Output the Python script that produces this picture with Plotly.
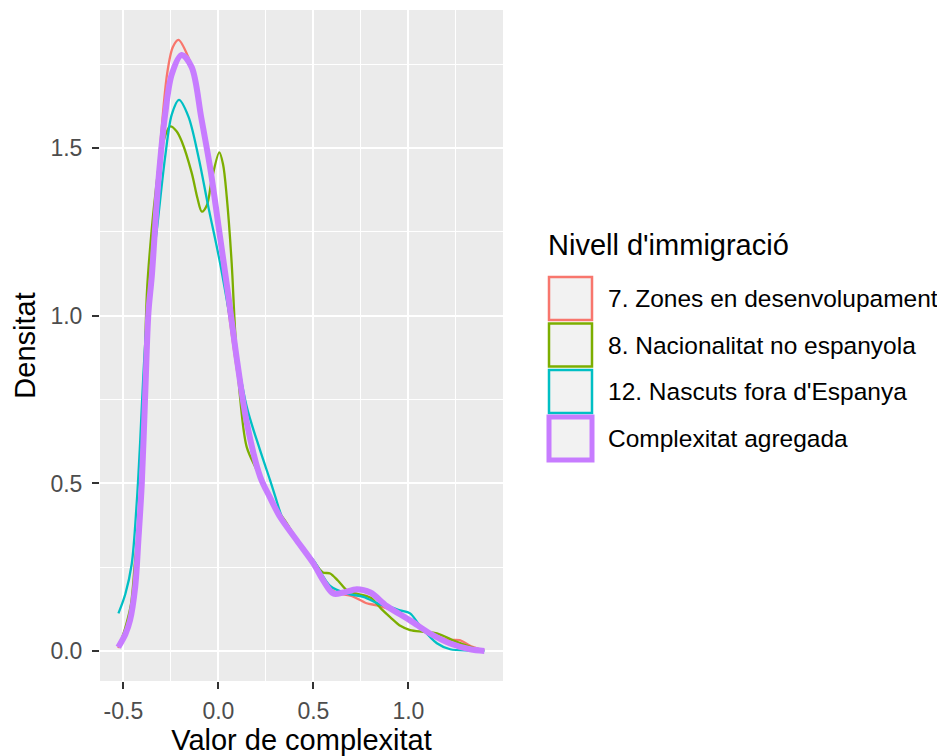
import plotly.graph_objects as go

# ---- data ----
series_names = ["7. Zones en desenvolupament", "8. Nacionalitat no espanyola",
                "12. Nascuts fora d'Espanya", "Complexitat agregada"]
series_colors = ["#F8766D", "#7CAE00", "#00BFC4", "#C77CFF"]

zones_x = [-0.527, -0.49, -0.465, -0.44, -0.42, -0.40, -0.385, -0.37, -0.35, -0.31, -0.27, -0.24,
           -0.21, -0.158, -0.12, -0.09, -0.04, 0.0, 0.05, 0.10, 0.15, 0.22, 0.27, 0.325, 0.413,
           0.5, 0.553, 0.605, 0.65, 0.70, 0.78, 0.834, 0.90, 1.0, 1.1, 1.2, 1.27, 1.33, 1.40]
zones_y = [0.01, 0.06, 0.11, 0.21, 0.36, 0.56, 0.78, 1.04, 1.20, 1.48, 1.72, 1.80,
           1.822, 1.77, 1.70, 1.60, 1.42, 1.25, 1.03, 0.83, 0.67, 0.52, 0.46, 0.40, 0.33,
           0.262, 0.215, 0.18, 0.17, 0.165, 0.143, 0.137, 0.125, 0.093, 0.058, 0.035, 0.033, 0.015, 0.002]

nacio_x = [-0.52, -0.49, -0.46, -0.44, -0.412, -0.394, -0.375, -0.355, -0.333, -0.298, -0.254, -0.22,
           -0.193, -0.14, -0.11, -0.087, -0.06, -0.035, 0.005, 0.025, 0.044, 0.07, 0.088, 0.114,
           0.149, 0.202, 0.25, 0.30, 0.35, 0.413, 0.5, 0.55, 0.588, 0.63, 0.68, 0.728, 0.80,
           0.86, 0.904, 0.96, 1.009, 1.08, 1.15, 1.255, 1.377]
nacio_y = [0.02, 0.07, 0.14, 0.26, 0.44, 0.74, 1.08, 1.23, 1.355, 1.50, 1.564, 1.55,
           1.52, 1.425, 1.35, 1.31, 1.33, 1.405, 1.487, 1.45, 1.355, 1.157, 0.957, 0.758,
           0.609, 0.54, 0.48, 0.43, 0.39, 0.335, 0.27, 0.235, 0.232, 0.21, 0.18, 0.172, 0.16,
           0.125, 0.102, 0.075, 0.063, 0.058, 0.053, 0.028, 0.003]

nasc_x = [-0.526, -0.49, -0.456, -0.43, -0.412, -0.395, -0.375, -0.35, -0.324, -0.28, -0.245, -0.207,
          -0.158, -0.105, -0.053, 0.009, 0.079, 0.149, 0.219, 0.272, 0.30, 0.342, 0.42, 0.5,
          0.588, 0.676, 0.763, 0.85, 0.904, 0.956, 1.009, 1.062, 1.15, 1.22, 1.325, 1.40]
nasc_y = [0.113, 0.17, 0.26, 0.44, 0.62, 0.82, 1.00, 1.14, 1.256, 1.474, 1.60, 1.643,
          1.594, 1.474, 1.325, 1.157, 0.937, 0.729, 0.60, 0.51, 0.46, 0.39, 0.32, 0.271,
          0.195, 0.172, 0.162, 0.14, 0.132, 0.122, 0.113, 0.075, 0.024, 0.006, 0.002, 0.001]

agreg_x = [-0.527, -0.49, -0.465, -0.438, -0.42, -0.403, -0.386, -0.368, -0.35, -0.316, -0.28, -0.245,
           -0.193, -0.14, -0.09, -0.04, 0.0, 0.05, 0.10, 0.15, 0.22, 0.27, 0.325, 0.413, 0.5,
           0.553, 0.605, 0.658, 0.728, 0.80, 0.886, 1.009, 1.114, 1.22, 1.325, 1.40]
agreg_y = [0.012, 0.05, 0.092, 0.19, 0.34, 0.50, 0.75, 1.01, 1.12, 1.40, 1.60, 1.72,
           1.777, 1.74, 1.59, 1.43, 1.27, 1.07, 0.86, 0.68, 0.52, 0.46, 0.40, 0.33, 0.262,
           0.21, 0.172, 0.175, 0.185, 0.175, 0.135, 0.092, 0.053, 0.023, 0.006, 0.001]

series_x = [zones_x, nacio_x, nasc_x, agreg_x]
series_y = [zones_y, nacio_y, nasc_y, agreg_y]
series_widths = [2.3, 2.3, 2.3, 6]

x_ticks = [-0.5, 0.0, 0.5, 1.0]
y_ticks = [0.0, 0.5, 1.0, 1.5]

x_title = "Valor de complexitat"
y_title = "Densitat"
legend_title = "Nivell d'immigració"

# ---- figure ----
OFF = 8  # default page margin of the HTML body
W, H = 945 - OFF, 756 - OFF
# panel edges in page pixels
PL, PR, PT, PB = 100, 503, 10, 681
L, R, T, B = PL - OFF, PR - OFF, PT - OFF, PB - OFF
FONT = "Liberation Sans, Arial, sans-serif"

fig = go.Figure()
for xs, ys, name, col, w in zip(series_x, series_y, series_names, series_colors, series_widths):
    fig.add_trace(go.Scatter(x=xs, y=ys, mode="lines", name=name,
                             line=dict(color=col, width=w, shape="spline", smoothing=0.9),
                             showlegend=False, hoverinfo="skip"))

def px2x(p):
    return (p - PL) / (PR - PL)

def px2y(p):
    return (PB - p) / (PB - PT)

shapes = []
annotations = []
box_tops = [277, 323.5, 370, 417]
box_size = 43
for i, (name, col) in enumerate(zip(series_names, series_colors)):
    top = box_tops[i]
    lw = 5 if i == 3 else 2.5
    shapes.append(dict(type="rect", xref="paper", yref="paper",
                       x0=px2x(549), x1=px2x(549 + box_size),
                       y0=px2y(top + box_size), y1=px2y(top),
                       fillcolor="#F2F2F2", line=dict(color=col, width=lw), layer="above"))
    annotations.append(dict(xref="paper", yref="paper", x=px2x(606), y=px2y(top + box_size / 2),
                            text=name, showarrow=False, xanchor="left", yanchor="middle",
                            font=dict(family=FONT, size=24.5, color="#000000")))
annotations.append(dict(xref="paper", yref="paper", x=px2x(546), y=px2y(245),
                        text=legend_title, showarrow=False, xanchor="left", yanchor="middle",
                        font=dict(family=FONT, size=29, color="#000000")))

axis_common = dict(showgrid=True, gridcolor="#FFFFFF", gridwidth=2,
                   zeroline=False, showline=False, ticks="outside", ticklen=7, tickwidth=2,
                   tickcolor="#333333", tickfont=dict(family=FONT, size=23, color="#4D4D4D"),
                   minor=dict(showgrid=True, gridcolor="#FFFFFF", gridwidth=1, dtick=0.5, tick0=0.25))

fig.update_layout(
    width=W, height=H,
    margin=dict(l=L, r=W - R, t=T, b=H - B, pad=0, autoexpand=False),
    paper_bgcolor="#FFFFFF", plot_bgcolor="#EBEBEB",
    showlegend=False,
    xaxis=dict(range=[-0.623, 1.498], tickvals=x_ticks, ticktext=[f"{v:.1f}" for v in x_ticks],
               title=dict(text=x_title, font=dict(family=FONT, size=29, color="#000000"), standoff=10),
               automargin=False, ticklabelstandoff=2, **axis_common),
    yaxis=dict(range=[-0.0886, 1.911], tickvals=y_ticks, ticktext=[f"{v:.1f}" for v in y_ticks],
               title=dict(text=y_title, font=dict(family=FONT, size=29, color="#000000"), standoff=6),
               automargin=False, ticklabelstandoff=5, **axis_common),
    shapes=shapes, annotations=annotations,
)

fig.write_html("out.html")
